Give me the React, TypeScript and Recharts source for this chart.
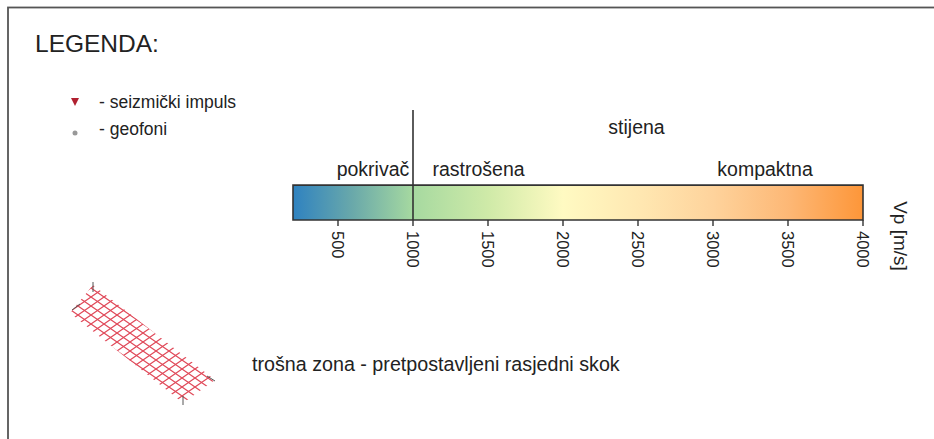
import {
  ComposedChart,
  ReferenceArea,
  ReferenceLine,
  Scatter,
  XAxis,
  YAxis,
} from "recharts";

const FONT = "'Liberation Sans', Arial, sans-serif";

// Vp scale of the seismic refraction profile
const velocityDomain = [200, 4000];
const velocityTicks = [500, 1000, 1500, 2000, 2500, 3000, 3500, 4000];
const boundaryVp = 1000;

const colourStops = [
  { vp: 200, color: "#2f82c0" },
  { vp: 600, color: "#6aa9aa" },
  { vp: 1000, color: "#a6d9a0" },
  { vp: 1500, color: "#cfeaa8" },
  { vp: 2000, color: "#fffac2" },
  { vp: 2500, color: "#ffe8b2" },
  { vp: 3000, color: "#fed39c" },
  { vp: 3500, color: "#fdb876" },
  { vp: 4000, color: "#fd9639" },
];

const zoneLabels = [
  { name: "pokrivač", vp: 733, tier: "sub" },
  { name: "rastrošena", vp: 1437, tier: "sub" },
  { name: "kompaktna", vp: 3347, tier: "sub" },
  { name: "stijena", vp: 2490, tier: "main" },
];

const legendItems = ["- seizmički impuls", "- geofoni"];
const zoneNote = "trošna zona - pretpostavljeni rasjedni skok";

const TIER_Y: Record<string, number> = { sub: 1.26, main: 2.46 };
const Y_MAX = 3.15;

const labelPoints = zoneLabels.map((z) => ({ ...z, y: TIER_Y[z.tier] }));

function VpTick({ x, y, payload }: any) {
  return (
    <g transform={`translate(${x},${y})`}>
      <text
        transform="rotate(90)"
        x={3}
        y={0}
        textAnchor="start"
        dominantBaseline="central"
        fontSize={16.5}
        fill="#222"
        fontFamily={FONT}
      >
        {payload.value}
      </text>
    </g>
  );
}

function ZoneLabel({ cx, cy, payload }: any) {
  return (
    <text
      x={cx}
      y={cy}
      textAnchor="middle"
      fontSize={19.5}
      fill="#222"
      fontFamily={FONT}
    >
      {payload.name}
    </text>
  );
}

export default function App() {
  const [v0, v1] = velocityDomain;
  return (
    <div style={{ position: "absolute", left: 0, top: 0, width: 934, height: 439, background: "#fff" }}>
      <ComposedChart
        width={934}
        height={439}
        margin={{ top: 110, right: 71, left: 293, bottom: 179 }}
      >
        <defs>
          <linearGradient id="vpGrad" x1="0" y1="0" x2="1" y2="0">
            {colourStops.map((s) => (
              <stop
                key={s.vp}
                offset={`${((s.vp - v0) / (v1 - v0)) * 100}%`}
                stopColor={s.color}
              />
            ))}
          </linearGradient>
        </defs>
        <XAxis
          type="number"
          dataKey="vp"
          domain={velocityDomain}
          ticks={velocityTicks}
          axisLine={false}
          tickLine={{ stroke: "#333", strokeWidth: 1.4 }}
          tickSize={6}
          height={40}
          tick={<VpTick />}
          interval={0}
        />
        <YAxis type="number" domain={[0, Y_MAX]} hide />
        <ReferenceArea
          x1={v0}
          x2={v1}
          y1={0}
          y2={1}
          fill="url(#vpGrad)"
          fillOpacity={1}
          stroke="#333"
          strokeWidth={1.6}
        />
        <ReferenceLine x={boundaryVp} stroke="#333" strokeWidth={1.6} />
        <Scatter
          data={labelPoints}
          dataKey="y"
          shape={<ZoneLabel />}
          isAnimationActive={false}
        />
      </ComposedChart>

      <svg
        width={934}
        height={439}
        style={{ position: "absolute", left: 0, top: 0, pointerEvents: "none" }}
      >
        <defs>
          <pattern id="hatch" width="13" height="9" patternUnits="userSpaceOnUse">
            <path d="M0 0 L13 9 M13 0 L0 9" stroke="#e04858" strokeWidth="1.2" />
          </pattern>
        </defs>
        <rect x={8} y={7.5} width={960} height={470} fill="none" stroke="#555" strokeWidth={1.8} />
        <text x={35} y={52} fontSize={24.5} fill="#222" fontFamily={FONT}>
          LEGENDA:
        </text>
        <polygon points="71,98 79,98 75,106" fill="#b02030" />
        <circle cx={75} cy={133} r={2.5} fill="#999" />
        {legendItems.map((t, i) => (
          <text key={t} x={99} y={108 + i * 27} fontSize={17.5} fill="#222" fontFamily={FONT}>
            {t}
          </text>
        ))}
        <text
          transform="translate(900,236) rotate(90)"
          textAnchor="middle"
          dominantBaseline="central"
          fontSize={19}
          fill="#222"
          fontFamily={FONT}
        >
          Vp [m/s]
        </text>
        <polygon points="93,285 215,380 183,403 70,313" fill="url(#hatch)" />
        <line x1={93} y1={282} x2={93} y2={292} stroke="#555" strokeWidth={1} />
        <line x1={72} y1={310} x2={80} y2={304} stroke="#555" strokeWidth={1} />
        <line x1={207} y1={376} x2={215} y2={381} stroke="#555" strokeWidth={1} />
        <line x1={183} y1={396} x2={183} y2={405} stroke="#555" strokeWidth={1} />
        <text x={252} y={371} fontSize={19.7} fill="#222" fontFamily={FONT}>
          {zoneNote}
        </text>
      </svg>
    </div>
  );
}
